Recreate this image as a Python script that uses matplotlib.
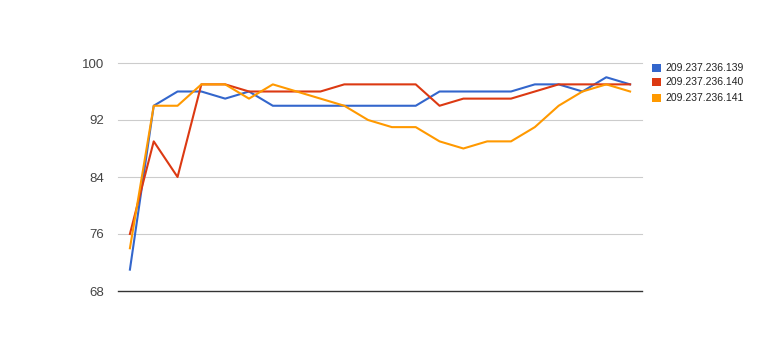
import matplotlib
matplotlib.use("Agg")
import matplotlib.pyplot as plt
from matplotlib.patches import Rectangle

series_names = ["209.237.236.139", "209.237.236.140", "209.237.236.141"]
colors = ["#3366cc", "#dc3912", "#ff9900"]
s139 = [71, 94, 96, 96, 95, 96, 94, 94, 94, 94, 94, 94, 94, 96, 96, 96, 96, 97, 97, 96, 98, 97]
s140 = [76, 89, 84, 97, 97, 96, 96, 96, 96, 97, 97, 97, 97, 94, 95, 95, 95, 96, 97, 97, 97, 97]
s141 = [74, 94, 94, 97, 97, 95, 97, 96, 95, 94, 92, 91, 91, 89, 88, 89, 89, 91, 94, 96, 97, 96]
y_ticks = [68, 76, 84, 92, 100]

plt.rcParams['font.family'] = ['Liberation Sans', 'DejaVu Sans']

W, H = 760, 354
fig = plt.figure(figsize=(W / 100, H / 100), dpi=100)
ax = fig.add_axes([118 / W, 1 - 291 / H, (642 - 118) / W, (291 - 63) / H])

x = list(range(len(s139)))
for vals, c in zip([s139, s140, s141], colors):
    ax.plot(x, vals, color=c, lw=1.5, solid_joinstyle='round', zorder=3, clip_on=False)

ax.set_xlim(-0.5, len(x) - 0.5)
ax.set_ylim(68, 100)
ax.set_yticks(y_ticks)
ax.set_yticklabels([str(v) for v in y_ticks], fontsize=9.5, color="#444444")
ax.set_xticks([])
for v in y_ticks[1:]:
    ax.axhline(v, color="#cccccc", lw=0.8, zorder=1, clip_on=False)
ax.axhline(68, color="#333333", lw=1.0, zorder=4, clip_on=False)
for sp in ax.spines.values():
    sp.set_visible(False)
ax.tick_params(axis='y', length=0, pad=10)

ys = [67.8, 82.2, 97.8]
for name, c, yy in zip(series_names, colors, ys):
    fig.add_artist(Rectangle((652 / W, 1 - (yy + 4.2) / H), 8.5 / W, 8.5 / H,
                             transform=fig.transFigure, color=c, lw=0))
    fig.text(665 / W, 1 - yy / H, name, fontsize=7.5, color="#222222", va='center', ha='left')

fig.savefig("out.png", dpi=100)
